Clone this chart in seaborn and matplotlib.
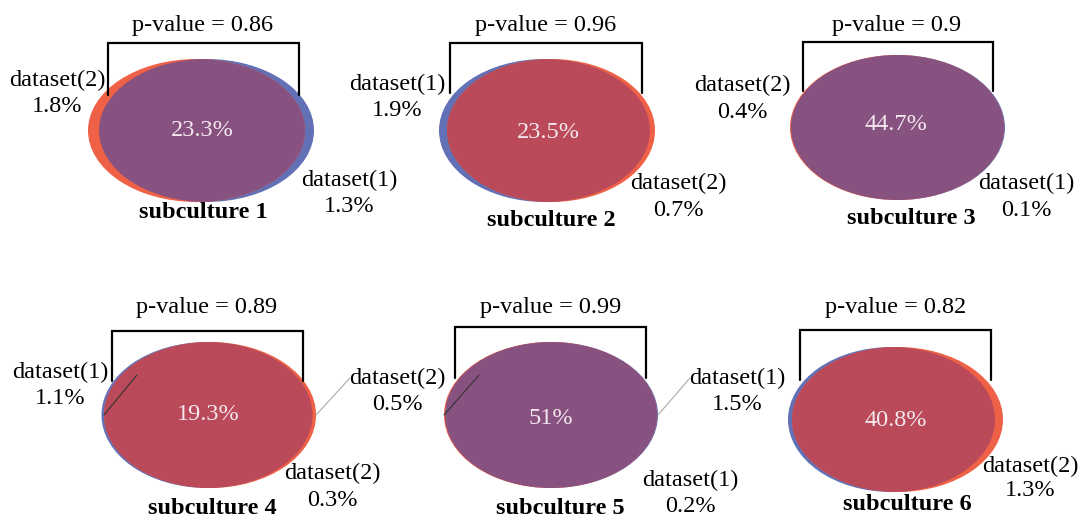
import matplotlib
matplotlib.use("Agg")
import matplotlib.pyplot as plt
from matplotlib.patches import Ellipse
import seaborn as sns

# ---------------- data ----------------
subcultures = ["subculture 1", "subculture 2", "subculture 3",
               "subculture 4", "subculture 5", "subculture 6"]
p_values = [0.86, 0.96, 0.9, 0.89, 0.99, 0.82]
overlap_pct = [23.3, 23.5, 44.7, 19.3, 51, 40.8]

# side labels (panel index, dataset name, exclusive percentage)
label_panel = [0, 0, 1, 1, 2, 2, 3, 3, 3, 4, 4, 5]
label_names = ["dataset(2)", "dataset(1)", "dataset(1)", "dataset(2)",
               "dataset(2)", "dataset(1)", "dataset(1)", "dataset(2)",
               "dataset(2)", "dataset(1)", "dataset(1)", "dataset(2)"]
label_values = [1.8, 1.3, 1.9, 0.7, 0.4, 0.1, 1.1, 0.5, 0.3, 1.5, 0.2, 1.3]

# ---------------- layout / style ----------------
ORANGE = "#EE6147"
BLUE = "#6270B5"
PURPLE = "#875280"
RED = "#BA4A5A"

# per panel: (blue cx, orange cx, cy, blue w, orange w, h, overlap colour)
ell_layout = [
    (206.5, 196.5, 130.5, 215, 217, 143, PURPLE),
    (544.5, 551.0, 130.5, 211, 208, 143, RED),
    (898.0, 897.0, 127.5, 214, 214, 145, PURPLE),
    (207.0, 210.0, 415.0, 211, 212, 146, RED),
    (551.5, 550.5, 415.0, 213, 213, 146, PURPLE),
    (891.5, 897.5, 419.5, 207, 211, 145, RED),
]
# bracket: (left x, right x, top y, bottom y)
bracket_layout = [
    (108, 299, 43, 95), (450, 642, 43, 93), (803, 993, 42, 91),
    (112, 303, 331, 381), (455, 646, 327, 378), (800, 991, 330, 380),
]
pval_pos = [(203, 26), (546, 25), (897, 25), (207, 308), (551, 308), (896, 308)]
overlap_pos = [(202, 130), (548, 132), (896, 125), (208, 414), (551, 418), (896, 421)]
title_pos = [(203, 212), (551, 220), (911, 219), (212, 508), (560, 508), (907, 504)]
label_pos = [(57, 80), (349, 180), (397, 84), (678, 183), (742, 85), (1026, 183),
             (60, 372), (397, 378), (332, 473), (737, 378), (690, 480), (1030, 466)]
label_gap = [27, 27, 27, 27, 27, 27, 26, 26, 27, 27, 27, 24]
# leader lines: ((x0, y0), (x1, y1), colour)
leaders = [((137, 375), (104, 415), "#333333"),
           ((316, 415), (350, 378), "#aaaaaa"),
           ((479, 375), (444, 415), "#333333"),
           ((658, 415), (690, 378), "#aaaaaa")]

FS = 17.5

sns.set_theme(style="white")
plt.rcParams["font.family"] = ["Liberation Serif", "DejaVu Serif"]

fig = plt.figure(figsize=(10.82, 5.20), dpi=100)
ax = fig.add_axes([0, 0, 1, 1])
ax.set_xlim(0, 1082)
ax.set_ylim(520, 0)
ax.axis("off")

for i, name in enumerate(subcultures):
    bx, ox, cy, bw, ow, h, ocol = ell_layout[i]
    blue = Ellipse((bx, cy), bw, h, facecolor=BLUE, edgecolor="none", zorder=1)
    orange = Ellipse((ox, cy), ow, h, facecolor=ORANGE, edgecolor="none", zorder=1)
    ax.add_patch(blue)
    ax.add_patch(orange)
    inter = Ellipse((bx, cy), bw, h, facecolor=ocol, edgecolor="none", zorder=2)
    ax.add_patch(inter)
    inter.set_clip_path(orange)

    lx, rx, ty, by = bracket_layout[i]
    ax.plot([lx, lx, rx, rx], [by, ty, ty, by], color="black", lw=1.6,
            solid_joinstyle="miter", zorder=3)

    px, py = pval_pos[i]
    ax.text(px, py, f"p-value = {p_values[i]:g}", ha="center", va="center",
            fontsize=FS, color="black")
    cx, cyy = overlap_pos[i]
    ax.text(cx, cyy, f"{overlap_pct[i]:g}%", ha="center", va="center",
            fontsize=FS, color="#F4E8EE", zorder=4)
    tx, ty2 = title_pos[i]
    ax.text(tx, ty2, name, ha="center", va="center", fontsize=FS,
            fontweight="bold", color="black")

for (p0, p1, col) in leaders:
    ax.plot([p0[0], p1[0]], [p0[1], p1[1]], color=col, lw=0.8, zorder=3)

for j in range(len(label_names)):
    x, y = label_pos[j]
    ax.text(x, y, label_names[j], ha="center", va="center", fontsize=FS,
            color="black")
    ax.text(x, y + label_gap[j], f"{label_values[j]:g}%", ha="center",
            va="center", fontsize=FS, color="black")

fig.savefig("out.png", dpi=100, facecolor="white")
